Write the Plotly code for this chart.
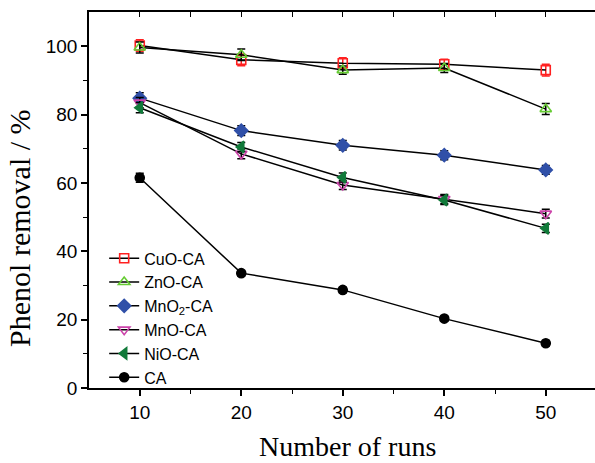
import plotly.graph_objects as go

runs = [10, 20, 30, 40, 50]

cuo = [100.2, 96.0, 95.0, 94.7, 93.0]
cuo_err = [1.7, 1.7, 1.6, 1.5, 1.7]
zno = [99.6, 97.5, 93.0, 93.6, 81.6]
zno_err = [1.6, 1.7, 1.2, 1.3, 1.6]
mno2 = [84.8, 75.3, 71.0, 68.1, 63.8]
mno2_err = [1.6, 1.4, 1.4, 1.3, 1.3]
mno = [83.5, 68.5, 59.4, 55.3, 51.0]
mno_err = [1.5, 1.4, 1.3, 1.3, 1.3]
nio = [82.0, 70.5, 61.6, 55.0, 46.7]
nio_err = [1.5, 1.3, 1.3, 1.3, 1.2]
ca = [61.5, 33.6, 28.7, 20.3, 13.1]
ca_err = [1.3, 0.8, 0.8, 0.8, 0.8]

names = ["CuO-CA", "ZnO-CA", "MnO<sub>2</sub>-CA", "MnO-CA", "NiO-CA", "CA"]
series = [cuo, zno, mno2, mno, nio, ca]
errors = [cuo_err, zno_err, mno2_err, mno_err, nio_err, ca_err]

styles = [
    dict(symbol="square-open", color="#FF2020", size=9, ecolor="#FF2020"),
    dict(symbol="triangle-up-open", color="#66CC33", size=10, ecolor="black"),
    dict(symbol="diamond", color="#3050A8", size=10, ecolor="black"),
    dict(symbol="triangle-down-open", color="#CC44AA", size=10, ecolor="black"),
    dict(symbol="triangle-left", color="#117A3A", size=10, ecolor="black"),
    dict(symbol="circle", color="black", size=9, ecolor="black"),
]

fig = go.Figure()
for name, ys, es, st in zip(names, series, errors, styles):
    fig.add_trace(go.Scatter(
        x=runs, y=ys, name=name, mode="lines+markers",
        line=dict(color="black", width=1.5),
        marker=dict(symbol=st["symbol"], color=st["color"], size=st["size"],
                    line=dict(color=st["color"], width=1.6)),
        error_y=dict(type="data", array=es, visible=True, color=st["ecolor"],
                     thickness=1.5, width=4),
    ))

# invisible trace to carry the top axis
fig.add_trace(go.Scatter(x=[runs[0]], y=[cuo[0]], xaxis="x2", showlegend=False,
                         mode="markers", marker=dict(opacity=0), hoverinfo="skip"))

tickfont = dict(family="Liberation Sans, Arial", size=19, color="black")

fig.update_layout(
    width=595, height=463,
    margin=dict(l=89, r=0, t=12, b=75),
    paper_bgcolor="white", plot_bgcolor="white",
    showlegend=True,
    legend=dict(x=0.03, y=0.39, xanchor="left", yanchor="top",
                font=dict(family="Liberation Sans, Arial", size=16, color="black"),
                bgcolor="rgba(0,0,0,0)", itemwidth=30, tracegroupgap=0),
    xaxis=dict(range=[5, 54.85], tickvals=[10, 20, 30, 40, 50],
               showgrid=False, zeroline=False, showline=True, linecolor="black",
               linewidth=1.5, ticks="outside", ticklen=6, tickwidth=1.5,
               tickcolor="black", tickfont=tickfont,
               minor=dict(tickvals=[15, 25, 35, 45], ticks="outside", ticklen=4,
                          tickwidth=1.2, tickcolor="black")),
    xaxis2=dict(overlaying="x", matches="x", side="top", showgrid=False,
                zeroline=False, showline=True, linecolor="black", linewidth=1.5,
                ticks="inside", ticklen=5, tickwidth=1.2, tickcolor="black",
                tickvals=[10, 15, 20, 25, 30, 35, 40, 45, 50],
                showticklabels=False),
    yaxis=dict(range=[0, 110], tickvals=[0, 20, 40, 60, 80, 100],
               showgrid=False, zeroline=False, showline=True, linecolor="black",
               linewidth=1.5, ticks="outside", ticklen=6, tickwidth=1.5,
               tickcolor="black", tickfont=tickfont,
               minor=dict(tickvals=[10, 30, 50, 70, 90], ticks="outside", ticklen=4,
                          tickwidth=1.2, tickcolor="black")),
    annotations=[
        dict(text="Number of runs", xref="paper", yref="paper", x=0.51, y=-0.155,
             xanchor="center", yanchor="middle", showarrow=False,
             font=dict(family="Liberation Serif, Times New Roman", size=28, color="black")),
        dict(text="Phenol removal / %", xref="paper", yref="paper", x=-0.137, y=0.425,
             xanchor="center", yanchor="middle", showarrow=False, textangle=-90,
             font=dict(family="Liberation Serif, Times New Roman", size=30, color="black")),
    ],
)

fig.write_html("out.html")
